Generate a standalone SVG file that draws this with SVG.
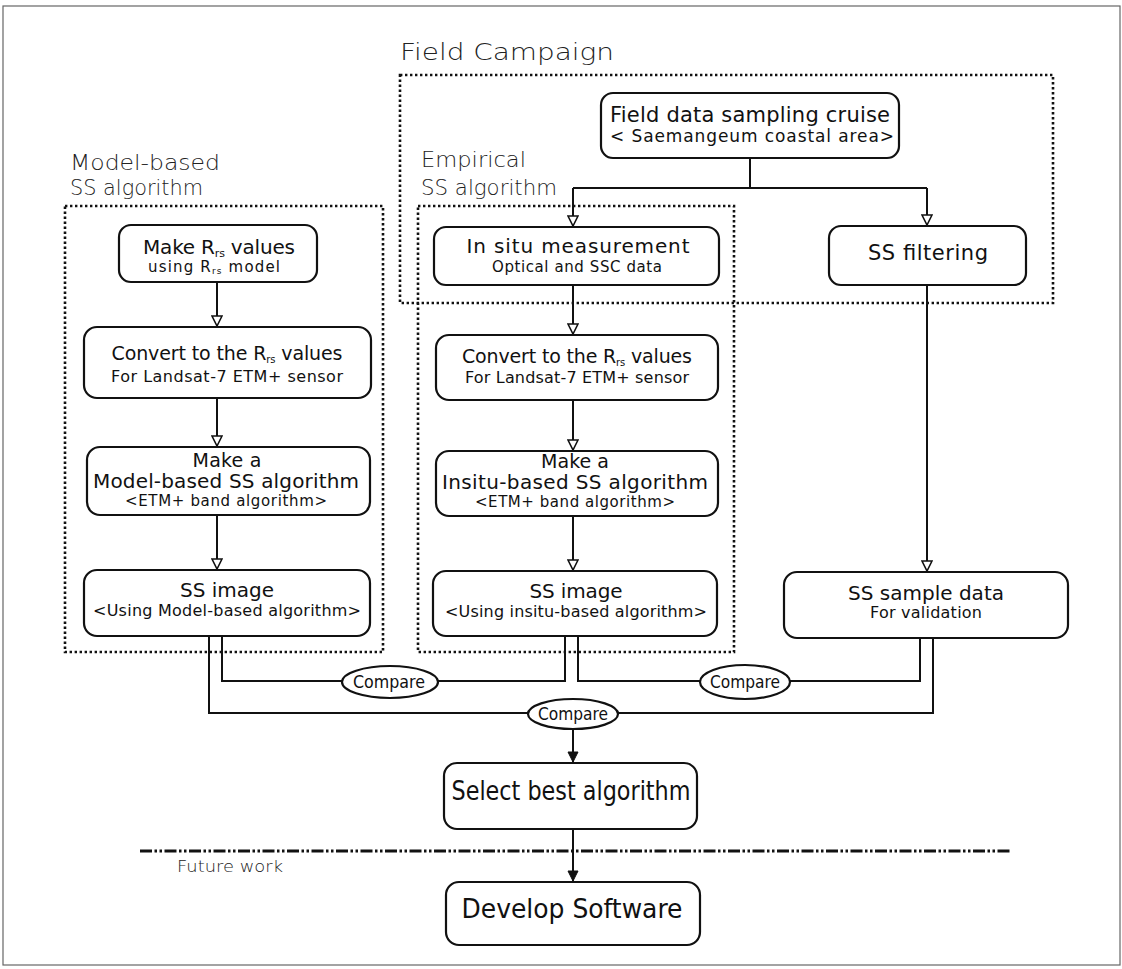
<svg xmlns="http://www.w3.org/2000/svg" width="1122" height="969" viewBox="0 0 1122 969">
<defs>
<style>
.frame{fill:none;stroke:#666;stroke-width:1.2}
.grp{fill:none;stroke:#111;stroke-width:2.6;stroke-dasharray:2.4 2.6}
.box{fill:#fff;stroke:#111;stroke-width:2.2}
.ell{fill:#fff;stroke:#111;stroke-width:2.2}
.ln{fill:none;stroke:#111;stroke-width:2}
.lbl{font-family:"DejaVu Sans","Liberation Sans",sans-serif;font-weight:300;fill:#222}
.t{font-family:"DejaVu Sans","Liberation Sans",sans-serif;fill:#111;text-anchor:middle}
.tc{font-family:"DejaVu Sans Condensed","DejaVu Sans","Liberation Sans Narrow",sans-serif;fill:#111;text-anchor:middle}
.dd{fill:none;stroke:#111;stroke-width:2.8;stroke-dasharray:12 2.5 2.5 2.5 2.5 2.5}
</style>
<marker id="ah" viewBox="0 0 12 12" refX="11" refY="6" markerWidth="12" markerHeight="12" markerUnits="userSpaceOnUse" orient="auto">
<path d="M1,1 L11,6 L1,11 Z" fill="#fff" stroke="#111" stroke-width="1.6"/>
</marker>
<marker id="af" viewBox="0 0 12 12" refX="11" refY="6" markerWidth="12" markerHeight="12" markerUnits="userSpaceOnUse" orient="auto">
<path d="M1,1 L11,6 L1,11 Z" fill="#111" stroke="#111" stroke-width="1"/>
</marker>
</defs>
<rect width="1122" height="969" fill="#fff"/>
<rect class="frame" x="3" y="6" width="1117" height="959"/>

<g id="groups">
<rect class="grp" x="400" y="75" width="653" height="228"/>
<rect class="grp" x="65" y="206" width="318" height="446"/>
<rect class="grp" x="418" y="206" width="316" height="446"/>
<text class="lbl" x="400" y="60" font-size="23" textLength="214" lengthAdjust="spacingAndGlyphs">Field Campaign</text>
<text class="lbl" x="70" y="170" font-size="22" textLength="150" lengthAdjust="spacingAndGlyphs">Model-based</text>
<text class="lbl" x="70" y="195" font-size="22" textLength="133" lengthAdjust="spacingAndGlyphs">SS algorithm</text>
<text class="lbl" x="421" y="167" font-size="22" textLength="105" lengthAdjust="spacingAndGlyphs">Empirical</text>
<text class="lbl" x="421" y="195" font-size="22" textLength="136" lengthAdjust="spacingAndGlyphs">SS algorithm</text>
<line class="dd" x1="140" y1="851" x2="1012" y2="851"/>
<text class="lbl" x="177" y="872" font-size="16" textLength="106" lengthAdjust="spacingAndGlyphs">Future work</text>
</g>

<g id="connectors">
<path class="ln" d="M750 158 V188 M573 188 H927"/>
<path class="ln" d="M573 188 V226" marker-end="url(#ah)"/>
<path class="ln" d="M927 188 V225" marker-end="url(#ah)"/>
<path class="ln" d="M927 285 V571" marker-end="url(#ah)"/>
<path class="ln" d="M217 282 V326" marker-end="url(#ah)"/>
<path class="ln" d="M217 398 V446" marker-end="url(#ah)"/>
<path class="ln" d="M217 515 V569" marker-end="url(#ah)"/>
<path class="ln" d="M573 285 V334" marker-end="url(#ah)"/>
<path class="ln" d="M573 400 V450" marker-end="url(#ah)"/>
<path class="ln" d="M573 516 V570" marker-end="url(#ah)"/>
<path class="ln" d="M222 636 V681 H342 M438 681 H565 V636"/>
<path class="ln" d="M578 636 V681 H700 M790 681 H920 V638"/>
<path class="ln" d="M209 636 V713 H528 M618 713 H933 V638"/>
<path class="ln" d="M573 729 V762" marker-end="url(#af)"/>
<path class="ln" d="M573 829 V881" marker-end="url(#af)"/>
</g>

<g id="field-data">
<rect class="box" x="601" y="93" width="298" height="65" rx="12"/>
<text class="t" x="750" y="122" font-size="21" textLength="280">Field data sampling cruise</text>
<text class="t" x="752" y="142" font-size="17" textLength="284">&lt; Saemangeum coastal area&gt;</text>
</g>

<g id="in-situ">
<rect class="box" x="434" y="227" width="285" height="58" rx="12"/>
<text class="t" x="578" y="253" font-size="20" textLength="223">In situ measurement</text>
<text class="t" x="577" y="272" font-size="15" textLength="170">Optical and SSC data</text>
</g>

<g id="ss-filtering">
<rect class="box" x="829" y="226" width="197" height="59" rx="12"/>
<text class="t" x="928" y="260" font-size="21" textLength="120">SS filtering</text>
</g>

<g id="make-rrs">
<rect class="box" x="119" y="225" width="198" height="57" rx="12"/>
<text class="t" x="219" y="254" font-size="20" textLength="152">Make R<tspan font-size="11" dy="3">rs</tspan><tspan dy="-3"> values</tspan></text>
<text class="t" x="214" y="272" font-size="15" textLength="132">using R<tspan font-size="9" dy="2">rs</tspan><tspan dy="-2"> model</tspan></text>
</g>

<g id="convert-left">
<rect class="box" x="84" y="327" width="287" height="71" rx="13"/>
<text class="t" x="227" y="360" font-size="19" textLength="231">Convert to the R<tspan font-size="10" dy="3">rs</tspan><tspan dy="-3"> values</tspan></text>
<text class="t" x="227" y="382" font-size="16" textLength="232">For Landsat-7 ETM+ sensor</text>
</g>

<g id="make-model">
<rect class="box" x="87" y="447" width="283" height="68" rx="13"/>
<text class="t" x="227" y="467" font-size="19" textLength="69">Make a</text>
<text class="t" x="226" y="488" font-size="20" textLength="266">Model-based SS algorithm</text>
<text class="t" x="226" y="506" font-size="15" textLength="202">&lt;ETM+ band algorithm&gt;</text>
</g>

<g id="ss-image-model">
<rect class="box" x="84" y="570" width="286" height="66" rx="13"/>
<text class="t" x="227" y="597" font-size="20" textLength="94">SS image</text>
<text class="t" x="227" y="616" font-size="16" textLength="268">&lt;Using Model-based algorithm&gt;</text>
</g>

<g id="convert-mid">
<rect class="box" x="436" y="335" width="282" height="65" rx="13"/>
<text class="t" x="577" y="363" font-size="19" textLength="230">Convert to the R<tspan font-size="10" dy="3">rs</tspan><tspan dy="-3"> values</tspan></text>
<text class="t" x="577" y="383" font-size="16" textLength="224">For Landsat-7 ETM+ sensor</text>
</g>

<g id="make-insitu">
<rect class="box" x="436" y="451" width="282" height="65" rx="13"/>
<text class="t" x="575" y="468" font-size="19" textLength="68">Make a</text>
<text class="t" x="575" y="489" font-size="20" textLength="266">Insitu-based SS algorithm</text>
<text class="t" x="575" y="507" font-size="15" textLength="200">&lt;ETM+ band algorithm&gt;</text>
</g>

<g id="ss-image-insitu">
<rect class="box" x="433" y="571" width="284" height="65" rx="13"/>
<text class="t" x="576" y="598" font-size="20" textLength="93">SS image</text>
<text class="t" x="576" y="617" font-size="16" textLength="262">&lt;Using insitu-based algorithm&gt;</text>
</g>

<g id="ss-sample">
<rect class="box" x="784" y="572" width="284" height="66" rx="13"/>
<text class="t" x="926" y="600" font-size="20" textLength="156">SS sample data</text>
<text class="t" x="926" y="618" font-size="16" textLength="112">For validation</text>
</g>

<g id="compare-1">
<ellipse class="ell" cx="390" cy="682" rx="48" ry="16"/>
<text class="tc" x="389" y="688" font-size="18" textLength="72" lengthAdjust="spacingAndGlyphs">Compare</text>
</g>
<g id="compare-2">
<ellipse class="ell" cx="745" cy="682" rx="45" ry="17"/>
<text class="tc" x="745" y="688" font-size="18" textLength="70" lengthAdjust="spacingAndGlyphs">Compare</text>
</g>
<g id="compare-3">
<ellipse class="ell" cx="573" cy="714" rx="45" ry="15"/>
<text class="tc" x="573" y="720" font-size="18" textLength="70" lengthAdjust="spacingAndGlyphs">Compare</text>
</g>

<g id="select-best">
<rect class="box" x="444" y="763" width="253" height="66" rx="13"/>
<text class="tc" x="571" y="800" font-size="26" textLength="239" lengthAdjust="spacingAndGlyphs">Select best algorithm</text>
</g>

<g id="develop-software">
<rect class="box" x="446" y="882" width="254" height="63" rx="13"/>
<text class="tc" x="572" y="918" font-size="26" textLength="221" lengthAdjust="spacingAndGlyphs">Develop Software</text>
</g>
</svg>
